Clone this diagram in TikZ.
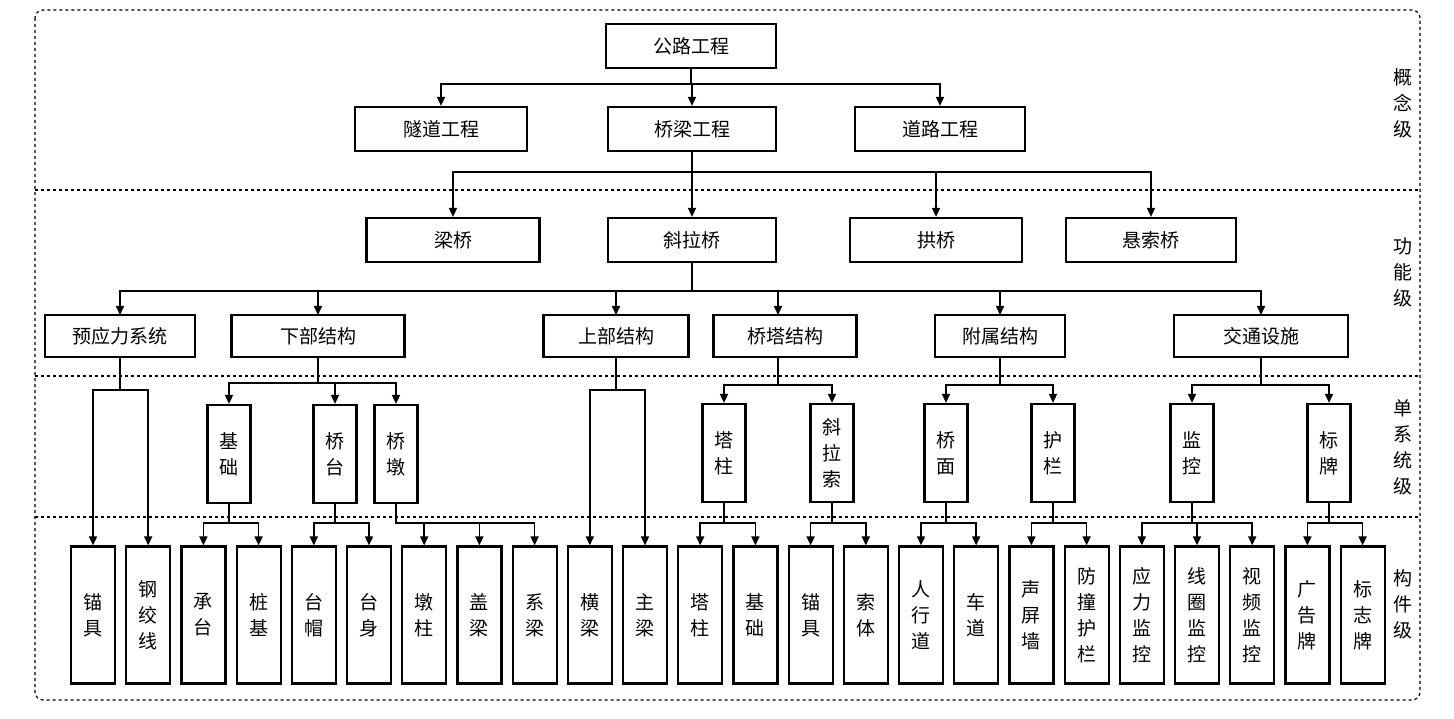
\documentclass[tikz,border=0pt]{standalone}
\usepackage{fontspec}
\newfontfamily\cjk{Noto Sans CJK SC}
\usetikzlibrary{arrows.meta}
\begin{document}
\begin{tikzpicture}[x=1pt,y=-1pt,
  box/.style={draw,line width=2.2pt,inner sep=0pt,font=\cjk\fontsize{19}{26}\selectfont,align=center},
  hb/.style={box,minimum height=44pt},
  vb/.style={box,minimum width=43pt,minimum height=98pt},
  cb/.style={box,minimum width=44pt,minimum height=137pt},
  arr/.style={line width=1.6pt,-{Triangle[length=9pt,width=8pt]}},
  lvl/.style={font=\cjk\fontsize{19}{26}\selectfont,align=center},
  sep/.style={dashed,line width=1.2pt}]
\useasboundingbox (0,0) rectangle (1454,719);
\draw[sep,rounded corners=8pt] (35,10) rectangle (1420,700);
\foreach \y in {190,376,517} \draw[sep] (35,\y) -- (1420,\y);
\node[lvl] (l1) at (1403,103) {概\\念\\级};
\node[lvl] (l2) at (1403,272) {功\\能\\级};
\node[lvl] (l3) at (1403,447) {单\\系\\统\\级};
\node[lvl] (l4) at (1403,604) {构\\件\\级};
% level 1
\node[hb,minimum width=170pt] (gl) at (691,46) {公路工程};
\node[hb,minimum width=172pt] (sd) at (441,129) {隧道工程};
\node[hb,minimum width=168pt] (ql) at (692,129) {桥梁工程};
\node[hb,minimum width=170pt] (dl) at (940,129) {道路工程};
\foreach \c in {sd,ql,dl} \draw[arr] (gl.south) -- (gl.south|-0,84) -| (\c.north);
% level 2
\node[hb,minimum width=173pt] (lq) at (453,240) {梁桥};
\node[hb,minimum width=168pt] (xl) at (692,240) {斜拉桥};
\node[hb,minimum width=172pt] (gq) at (936,240) {拱桥};
\node[hb,minimum width=170pt] (xs) at (1151,240) {悬索桥};
\foreach \c in {lq,xl,gq,xs} \draw[arr] (ql.south) -- (ql.south|-0,172) -| (\c.north);
\node[hb,minimum width=150pt,minimum height=42pt] (yy) at (120,336) {预应力系统};
\node[hb,minimum width=173pt,minimum height=42pt] (xb) at (318,336) {下部结构};
\node[hb,minimum width=145pt,minimum height=42pt] (sb) at (616,336) {上部结构};
\node[hb,minimum width=143pt,minimum height=42pt] (qt) at (785,336) {桥塔结构};
\node[hb,minimum width=130pt,minimum height=42pt] (fs) at (1000,336) {附属结构};
\node[hb,minimum width=174pt,minimum height=42pt] (jt) at (1261,336) {交通设施};
\foreach \c/\x in {yy/120,xb/318,sb/616,qt/778,fs/1000,jt/1261} \draw[arr] (xl.south) -- (xl.south|-0,291) -| (\x,315);
% level 3
\node[vb] (jc) at (229,454) {基\\础};
\node[vb] (qtai) at (335,454) {桥\\台};
\node[vb] (qd) at (396,454) {桥\\墩};
\node[vb] (tz) at (724,453) {塔\\柱};
\node[vb] (xls) at (832,453) {斜\\拉\\索};
\node[vb] (qm) at (946,453) {桥\\面};
\node[vb] (hl) at (1053,453) {护\\栏};
\node[vb] (jk) at (1192,453) {监\\控};
\node[vb] (bp) at (1329,453) {标\\牌};
\foreach \c in {jc,qtai,qd} \draw[arr] (xb.south) -- (xb.south|-0,383) -| (\c.north);
\foreach \c in {tz,xls} \draw[arr] (778,357) -- (778,385) -| (\c.north);
\foreach \c in {qm,hl} \draw[arr] (fs.south) -- (fs.south|-0,385) -| (\c.north);
\foreach \c in {jk,bp} \draw[arr] (jt.south) -- (jt.south|-0,385) -| (\c.north);
% level 4
\foreach \n/\t [count=\i from 0] in {a1/锚\\具,a2/钢\\绞\\线,a3/承\\台,a4/桩\\基,a5/台\\帽,a6/台\\身,a7/墩\\柱,a8/盖\\梁,a9/系\\梁,a10/横\\梁,a11/主\\梁,a12/塔\\柱,a13/基\\础,a14/锚\\具,a15/索\\体,a16/人\\行\\道,a17/车\\道,a18/声\\屏\\墙,a19/防\\撞\\护\\栏,a20/应\\力\\监\\控,a21/线\\圈\\监\\控,a22/视\\频\\监\\控,a23/广\\告\\牌,a24/标\\志\\牌}
  \node[cb] (\n) at (93+55.2*\i,615) {\t};
\foreach \c in {a1,a2} \draw[arr] (yy.south) -- (yy.south|-0,390) -| (\c.north);
\foreach \c in {a10,a11} \draw[arr] (sb.south) -- (sb.south|-0,390) -| (\c.north);
\foreach \c in {a3,a4} \draw[arr] (jc.south) -- (jc.south|-0,523) -| (\c.north);
\foreach \c in {a5,a6} \draw[arr] (qtai.south) -- (qtai.south|-0,523) -| (\c.north);
\foreach \c in {a7,a8,a9} \draw[arr] (qd.south) -- (qd.south|-0,523) -| (\c.north);
\foreach \c in {a12,a13} \draw[arr] (tz.south) -- (tz.south|-0,523) -| (\c.north);
\foreach \c in {a14,a15} \draw[arr] (xls.south) -- (xls.south|-0,523) -| (\c.north);
\foreach \c in {a16,a17} \draw[arr] (qm.south) -- (qm.south|-0,523) -| (\c.north);
\foreach \c in {a18,a19} \draw[arr] (hl.south) -- (hl.south|-0,523) -| (\c.north);
\foreach \c in {a20,a21,a22} \draw[arr] (jk.south) -- (jk.south|-0,523) -| (\c.north);
\foreach \c in {a23,a24} \draw[arr] (bp.south) -- (bp.south|-0,523) -| (\c.north);
\end{tikzpicture}
\end{document}
